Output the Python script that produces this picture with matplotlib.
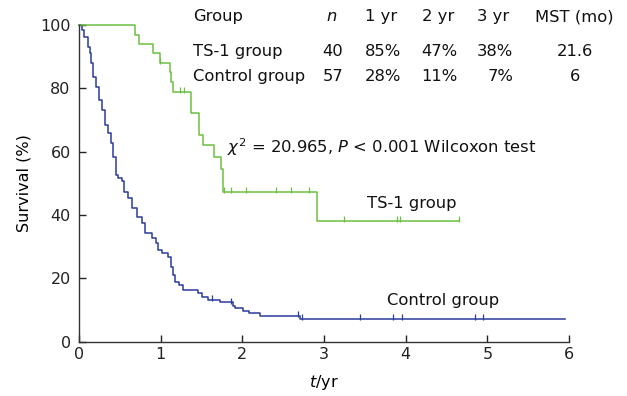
import numpy as np
import matplotlib
matplotlib.use("Agg")
import matplotlib.pyplot as plt

plt.rcParams['font.family'] = ['DejaVu Sans']
plt.rcParams['mathtext.fontset'] = 'dejavusans'

# TS-1 group
ts1_t = [0, 0.68, 0.73, 0.90, 0.99, 1.11, 1.13, 1.15, 1.37, 1.47, 1.52, 1.65, 1.74, 1.76, 2.92, 4.65]
ts1_s = [100, 96.7, 93.9, 91.0, 88.0, 85.2, 82.0, 78.9, 72.0, 65.2, 62.0, 58.2, 54.4, 47.3, 38.0, 38.0]
ts1_cens = [0.99, 1.24, 1.28, 1.78, 1.86, 2.05, 2.41, 2.60, 2.82, 3.24, 3.89, 3.93, 4.65]

# Control group
ctrl_t = [0, 0.033, 0.065, 0.106, 0.135, 0.147, 0.175, 0.204, 0.245, 0.285, 0.318, 0.359,
          0.392, 0.42, 0.449, 0.481, 0.522, 0.555, 0.604, 0.645, 0.706, 0.767, 0.808,
          0.89, 0.942, 0.971, 1.012, 1.093, 1.122, 1.147, 1.175, 1.228, 1.269, 1.46,
          1.51, 1.58, 1.73, 1.88, 1.91, 2.01, 2.08, 2.22, 2.70, 5.95]
ctrl_s = [100, 98.3, 96.2, 93.1, 91.0, 87.8, 83.6, 80.4, 76.2, 73.1, 68.4, 65.7,
          62.6, 58.4, 52.6, 51.5, 50.8, 47.3, 45.2, 42.1, 39.4, 37.3, 34.2,
          32.6, 31.0, 28.9, 27.9, 26.8, 23.7, 21.0, 18.9, 17.9, 16.3, 15.5,
          14.0, 13.2, 12.4, 11.4, 10.7, 9.8, 9.0, 8.1, 7.1, 7.1]
ctrl_cens = [1.63, 1.86, 2.68, 2.73, 3.44, 3.85, 3.96, 4.85, 4.95]

# table
header = ["n", "1 yr", "2 yr", "3 yr", "MST (mo)"]
groups = ["TS-1 group", "Control group"]
n_vals = ["40", "57"]
yr1 = ["85%", "28%"]
yr2 = ["47%", "11%"]
yr3 = ["38%", "7%"]
mst = ["21.6", "6"]

green = '#6cc040'
blue = '#2b3c9b'


def surv_at(t_list, s_list, tc):
    i = np.searchsorted(t_list, tc, side='right') - 1
    return np.array(s_list)[i]


fig = plt.figure(figsize=(6.27, 3.96), dpi=100)
ax = fig.add_axes([0.126, 0.137, 0.7815, 0.8006])

ax.plot(ctrl_t, ctrl_s, drawstyle='steps-post', color=blue, lw=1.1, clip_on=False)
ax.plot(ts1_t, ts1_s, drawstyle='steps-post', color=green, lw=1.1, clip_on=False)
ax.plot(ctrl_cens, surv_at(ctrl_t, ctrl_s, ctrl_cens) + 0.6, ls='none', marker='|',
        ms=4, mew=0.9, color=blue, clip_on=False)
ax.plot(ts1_cens, surv_at(ts1_t, ts1_s, ts1_cens) + 0.6, ls='none', marker='|',
        ms=4, mew=0.9, color=green, clip_on=False)

ax.set_xlim(0, 6)
ax.set_ylim(0, 100)
ax.set_xticks(range(7))
ax.set_yticks(range(0, 101, 20))
for s in ['top', 'right']:
    ax.spines[s].set_visible(False)
for s in ['left', 'bottom']:
    ax.spines[s].set_color('#333333')
    ax.spines[s].set_linewidth(1.0)
ax.tick_params(direction='in', length=5, width=1, labelsize=11.5, colors='#222222')
ax.tick_params(axis='y', pad=6)
ax.set_xlabel(r"$t$/yr", fontsize=11.5, labelpad=8)
ax.set_ylabel("Survival (%)", fontsize=11.5, labelpad=6)

fs = 11.8
kw = dict(fontsize=fs, va='center', clip_on=False, color='#111111')
ax.text(1.40, 102.5, "Group", ha='left', **kw)
ax.text(3.09, 102.5, r"$n$", ha='center', **kw)
for x, h in zip([3.705, 4.40, 5.07, 6.07], header[1:]):
    ax.text(x, 102.5, h, ha='center', **kw)
for row, y in enumerate([91.5, 83.6]):
    ax.text(1.40, y, groups[row], ha='left', **kw)
    ax.text(3.235, y, n_vals[row], ha='right', **kw)
    ax.text(3.94, y, yr1[row], ha='right', **kw)
    ax.text(4.63, y, yr2[row], ha='right', **kw)
    ax.text(5.32, y, yr3[row], ha='right', **kw)
    ax.text(6.07, y, mst[row], ha='center', **kw)

ax.text(1.81, 61.5, r"$\chi^2$ = 20.965, $P$ < 0.001 Wilcoxon test", ha='left', **kw)
ax.text(4.07, 43.7, "TS-1 group", ha='center', **kw)
ax.text(4.46, 13.0, "Control group", ha='center', **kw)

fig.savefig("out.png", dpi=100)
